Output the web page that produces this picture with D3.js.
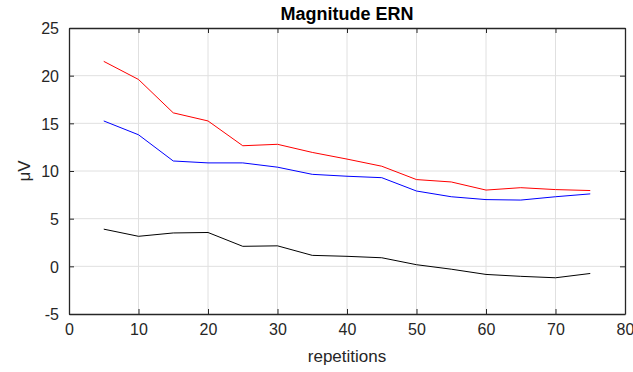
<!DOCTYPE html>
<html><head><meta charset="utf-8">
<script src="https://cdn.jsdelivr.net/npm/d3@7"></script>
<style>body{margin:0;background:#fff;} svg{display:block;}</style>
</head><body>
<svg id="c" width="633" height="372"></svg>
<script>
const reps = [5,10,15,20,25,30,35,40,45,50,55,60,65,70,75];
const redVals = [21.5,19.6,16.1,15.25,12.65,12.8,11.95,11.25,10.5,9.1,8.85,8.0,8.25,8.05,7.95];
const blueVals = [15.25,13.8,11.05,10.85,10.85,10.4,9.65,9.45,9.3,7.9,7.3,7.0,6.95,7.3,7.6];
const blackVals = [3.9,3.15,3.5,3.55,2.1,2.15,1.15,1.05,0.9,0.17,-0.3,-0.85,-1.05,-1.2,-0.75];
const xTicks = [0,10,20,30,40,50,60,70,80];
const yTicks = [-5,0,5,10,15,20,25];

const svg = d3.select('#c');
const L=69, R=625, T=28, B=314;
const x = d3.scaleLinear().domain([0,80]).range([L,R]);
const y = d3.scaleLinear().domain([-5,25]).range([B,T]);
const axisColor = '#262626';
const font = 'Liberation Sans, Arial, sans-serif';

// grid
svg.append('g').selectAll('line').data(xTicks.slice(1,-1)).join('line')
  .attr('x1',d=>x(d)).attr('x2',d=>x(d)).attr('y1',T).attr('y2',B)
  .attr('stroke','#e0e0e0').attr('stroke-width',1);
svg.append('g').selectAll('line').data(yTicks.slice(1,-1)).join('line')
  .attr('y1',d=>y(d)).attr('y2',d=>y(d)).attr('x1',L).attr('x2',R)
  .attr('stroke','#e0e0e0').attr('stroke-width',1);

// lines
const line = d3.line().x((d,i)=>x(reps[i])).y(d=>y(d));
[[redVals,'#ff0000'],[blueVals,'#0000ff'],[blackVals,'#000000']].forEach(([v,c])=>{
  svg.append('path').datum(v).attr('d',line).attr('fill','none')
    .attr('stroke',c).attr('stroke-width',1);
});

// axes (inward ticks, box)
const tl = 5;
const fmt = d => String(d);
const gx = svg.append('g').attr('transform',`translate(0,${B})`)
  .call(d3.axisBottom(x).tickValues(xTicks).tickFormat(fmt).tickSize(-tl).tickPadding(10).tickSizeOuter(0));
const gy = svg.append('g').attr('transform',`translate(${L},0)`)
  .call(d3.axisLeft(y).tickValues(yTicks).tickFormat(fmt).tickSize(-tl).tickPadding(10).tickSizeOuter(0));
const gxt = svg.append('g').attr('transform',`translate(0,${T})`)
  .call(d3.axisTop(x).tickValues(xTicks).tickSize(-tl).tickFormat('').tickSizeOuter(0));
const gyr = svg.append('g').attr('transform',`translate(${R},0)`)
  .call(d3.axisRight(y).tickValues(yTicks).tickSize(-tl).tickFormat('').tickSizeOuter(0));
[gx,gy,gxt,gyr].forEach(g=>{
  g.selectAll('.domain').attr('stroke',axisColor).attr('stroke-width',1.3);
  g.selectAll('.tick line').attr('stroke',axisColor);
  g.selectAll('text').attr('fill',axisColor).style('font-family',font).style('font-size','16px');
});
gy.selectAll('text').attr('dy','0.36em');

svg.append('text').attr('x',(L+R)/2).attr('y',20).attr('text-anchor','middle')
  .style('font-family',font).style('font-size','18px').style('font-weight','bold')
  .attr('fill','#000').text('Magnitude ERN');
svg.append('text').attr('x',(L+R)/2).attr('y',362).attr('text-anchor','middle')
  .style('font-family',font).style('font-size','17px').attr('fill',axisColor).text('repetitions');
svg.append('text').attr('transform',`translate(30,${(T+B)/2}) rotate(-90)`).attr('text-anchor','middle')
  .style('font-family',font).style('font-size','17px').attr('fill',axisColor).text('μV');
</script>
</body></html>
